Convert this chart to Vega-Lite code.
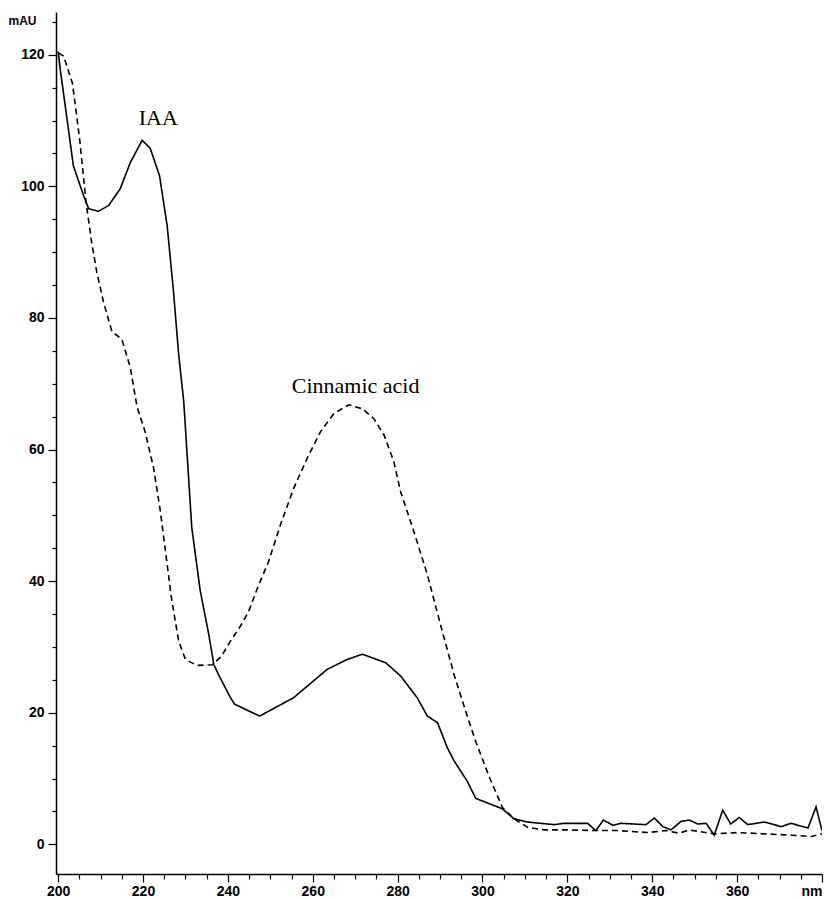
{
  "$schema": "https://vega.github.io/schema/vega-lite/v6.json",
  "width": 766,
  "height": 862,
  "autosize": {"type": "none"},
  "padding": {"left": 56, "top": 12, "right": 3, "bottom": 26},
  "background": "white",
  "config": {
    "view": {"stroke": null},
    "axis": {
      "domainColor": "black",
      "domainWidth": 1.5,
      "tickColor": "black",
      "tickWidth": 1.2,
      "grid": false,
      "labelFont": "Liberation Sans",
      "labelFontWeight": "bold",
      "labelFontSize": 14,
      "labelColor": "black",
      "labelOverlap": false,
      "labelBound": false
    }
  },
  "datasets": {
    "spectra": [
      {"nm": 200.0, "mAU": 120.5, "series": "IAA"},
      {"nm": 200.5, "mAU": 117.8, "series": "IAA"},
      {"nm": 203.6, "mAU": 103.1, "series": "IAA"},
      {"nm": 206.0, "mAU": 98.6, "series": "IAA"},
      {"nm": 207.2, "mAU": 96.6, "series": "IAA"},
      {"nm": 209.5, "mAU": 96.2, "series": "IAA"},
      {"nm": 211.9, "mAU": 97.1, "series": "IAA"},
      {"nm": 214.6, "mAU": 99.6, "series": "IAA"},
      {"nm": 217.0, "mAU": 103.6, "series": "IAA"},
      {"nm": 219.8, "mAU": 107.0, "series": "IAA"},
      {"nm": 221.7, "mAU": 105.8, "series": "IAA"},
      {"nm": 223.9, "mAU": 101.6, "series": "IAA"},
      {"nm": 225.7, "mAU": 94.0, "series": "IAA"},
      {"nm": 227.2, "mAU": 83.9, "series": "IAA"},
      {"nm": 228.4, "mAU": 74.5, "series": "IAA"},
      {"nm": 229.6, "mAU": 67.3, "series": "IAA"},
      {"nm": 231.5, "mAU": 48.1, "series": "IAA"},
      {"nm": 233.5, "mAU": 38.5, "series": "IAA"},
      {"nm": 235.5, "mAU": 31.9, "series": "IAA"},
      {"nm": 236.7, "mAU": 27.3, "series": "IAA"},
      {"nm": 237.8, "mAU": 25.8, "series": "IAA"},
      {"nm": 240.6, "mAU": 22.3, "series": "IAA"},
      {"nm": 241.6, "mAU": 21.3, "series": "IAA"},
      {"nm": 247.5, "mAU": 19.5, "series": "IAA"},
      {"nm": 255.5, "mAU": 22.3, "series": "IAA"},
      {"nm": 263.4, "mAU": 26.6, "series": "IAA"},
      {"nm": 268.1, "mAU": 28.1, "series": "IAA"},
      {"nm": 271.7, "mAU": 28.9, "series": "IAA"},
      {"nm": 277.2, "mAU": 27.6, "series": "IAA"},
      {"nm": 280.7, "mAU": 25.6, "series": "IAA"},
      {"nm": 284.6, "mAU": 22.3, "series": "IAA"},
      {"nm": 287.0, "mAU": 19.5, "series": "IAA"},
      {"nm": 289.4, "mAU": 18.5, "series": "IAA"},
      {"nm": 291.7, "mAU": 14.7, "series": "IAA"},
      {"nm": 293.3, "mAU": 12.7, "series": "IAA"},
      {"nm": 296.4, "mAU": 9.6, "series": "IAA"},
      {"nm": 298.4, "mAU": 7.0, "series": "IAA"},
      {"nm": 304.7, "mAU": 5.4, "series": "IAA"},
      {"nm": 307.4, "mAU": 3.9, "series": "IAA"},
      {"nm": 310.6, "mAU": 3.4, "series": "IAA"},
      {"nm": 316.9, "mAU": 3.0, "series": "IAA"},
      {"nm": 319.2, "mAU": 3.2, "series": "IAA"},
      {"nm": 324.8, "mAU": 3.2, "series": "IAA"},
      {"nm": 326.7, "mAU": 2.1, "series": "IAA"},
      {"nm": 328.5, "mAU": 3.7, "series": "IAA"},
      {"nm": 330.7, "mAU": 2.9, "series": "IAA"},
      {"nm": 332.6, "mAU": 3.2, "series": "IAA"},
      {"nm": 338.5, "mAU": 3.0, "series": "IAA"},
      {"nm": 340.5, "mAU": 4.0, "series": "IAA"},
      {"nm": 342.5, "mAU": 2.7, "series": "IAA"},
      {"nm": 344.4, "mAU": 2.2, "series": "IAA"},
      {"nm": 346.8, "mAU": 3.5, "series": "IAA"},
      {"nm": 348.7, "mAU": 3.7, "series": "IAA"},
      {"nm": 350.7, "mAU": 3.1, "series": "IAA"},
      {"nm": 352.7, "mAU": 3.2, "series": "IAA"},
      {"nm": 354.6, "mAU": 1.4, "series": "IAA"},
      {"nm": 356.6, "mAU": 5.2, "series": "IAA"},
      {"nm": 358.5, "mAU": 3.1, "series": "IAA"},
      {"nm": 360.5, "mAU": 4.1, "series": "IAA"},
      {"nm": 362.5, "mAU": 3.0, "series": "IAA"},
      {"nm": 366.4, "mAU": 3.4, "series": "IAA"},
      {"nm": 370.4, "mAU": 2.7, "series": "IAA"},
      {"nm": 372.7, "mAU": 3.2, "series": "IAA"},
      {"nm": 376.7, "mAU": 2.5, "series": "IAA"},
      {"nm": 378.6, "mAU": 5.7, "series": "IAA"},
      {"nm": 380.0, "mAU": 2.1, "series": "IAA"},

      {"nm": 200.1, "mAU": 120.3, "series": "Cinnamic acid"},
      {"nm": 201.3, "mAU": 119.8, "series": "Cinnamic acid"},
      {"nm": 203.4, "mAU": 115.6, "series": "Cinnamic acid"},
      {"nm": 205.1, "mAU": 107.0, "series": "Cinnamic acid"},
      {"nm": 206.6, "mAU": 97.5, "series": "Cinnamic acid"},
      {"nm": 207.9, "mAU": 91.5, "series": "Cinnamic acid"},
      {"nm": 209.1, "mAU": 87.0, "series": "Cinnamic acid"},
      {"nm": 210.7, "mAU": 82.4, "series": "Cinnamic acid"},
      {"nm": 212.7, "mAU": 77.9, "series": "Cinnamic acid"},
      {"nm": 215.0, "mAU": 76.8, "series": "Cinnamic acid"},
      {"nm": 217.0, "mAU": 72.5, "series": "Cinnamic acid"},
      {"nm": 218.6, "mAU": 66.5, "series": "Cinnamic acid"},
      {"nm": 220.5, "mAU": 62.7, "series": "Cinnamic acid"},
      {"nm": 222.5, "mAU": 57.2, "series": "Cinnamic acid"},
      {"nm": 224.1, "mAU": 50.6, "series": "Cinnamic acid"},
      {"nm": 225.3, "mAU": 44.5, "series": "Cinnamic acid"},
      {"nm": 226.8, "mAU": 37.0, "series": "Cinnamic acid"},
      {"nm": 228.4, "mAU": 30.9, "series": "Cinnamic acid"},
      {"nm": 230.0, "mAU": 28.1, "series": "Cinnamic acid"},
      {"nm": 232.7, "mAU": 27.2, "series": "Cinnamic acid"},
      {"nm": 236.3, "mAU": 27.3, "series": "Cinnamic acid"},
      {"nm": 238.5, "mAU": 28.6, "series": "Cinnamic acid"},
      {"nm": 240.6, "mAU": 30.9, "series": "Cinnamic acid"},
      {"nm": 242.8, "mAU": 33.0, "series": "Cinnamic acid"},
      {"nm": 244.9, "mAU": 35.4, "series": "Cinnamic acid"},
      {"nm": 247.0, "mAU": 39.0, "series": "Cinnamic acid"},
      {"nm": 249.6, "mAU": 43.0, "series": "Cinnamic acid"},
      {"nm": 252.4, "mAU": 48.6, "series": "Cinnamic acid"},
      {"nm": 255.5, "mAU": 54.1, "series": "Cinnamic acid"},
      {"nm": 258.7, "mAU": 58.7, "series": "Cinnamic acid"},
      {"nm": 261.8, "mAU": 62.7, "series": "Cinnamic acid"},
      {"nm": 265.0, "mAU": 65.5, "series": "Cinnamic acid"},
      {"nm": 268.5, "mAU": 66.8, "series": "Cinnamic acid"},
      {"nm": 271.7, "mAU": 66.2, "series": "Cinnamic acid"},
      {"nm": 274.4, "mAU": 64.7, "series": "Cinnamic acid"},
      {"nm": 276.8, "mAU": 62.2, "series": "Cinnamic acid"},
      {"nm": 279.1, "mAU": 58.2, "series": "Cinnamic acid"},
      {"nm": 280.7, "mAU": 53.6, "series": "Cinnamic acid"},
      {"nm": 283.8, "mAU": 47.6, "series": "Cinnamic acid"},
      {"nm": 287.0, "mAU": 41.0, "series": "Cinnamic acid"},
      {"nm": 290.1, "mAU": 33.4, "series": "Cinnamic acid"},
      {"nm": 293.3, "mAU": 25.8, "series": "Cinnamic acid"},
      {"nm": 296.4, "mAU": 19.5, "series": "Cinnamic acid"},
      {"nm": 298.2, "mAU": 16.0, "series": "Cinnamic acid"},
      {"nm": 301.5, "mAU": 10.4, "series": "Cinnamic acid"},
      {"nm": 304.7, "mAU": 5.6, "series": "Cinnamic acid"},
      {"nm": 307.4, "mAU": 3.9, "series": "Cinnamic acid"},
      {"nm": 310.6, "mAU": 2.6, "series": "Cinnamic acid"},
      {"nm": 314.5, "mAU": 2.2, "series": "Cinnamic acid"},
      {"nm": 320.0, "mAU": 2.2, "series": "Cinnamic acid"},
      {"nm": 326.3, "mAU": 2.1, "series": "Cinnamic acid"},
      {"nm": 331.8, "mAU": 2.1, "series": "Cinnamic acid"},
      {"nm": 338.9, "mAU": 1.8, "series": "Cinnamic acid"},
      {"nm": 343.2, "mAU": 2.1, "series": "Cinnamic acid"},
      {"nm": 346.4, "mAU": 1.7, "series": "Cinnamic acid"},
      {"nm": 348.7, "mAU": 2.2, "series": "Cinnamic acid"},
      {"nm": 354.6, "mAU": 1.6, "series": "Cinnamic acid"},
      {"nm": 360.2, "mAU": 1.8, "series": "Cinnamic acid"},
      {"nm": 366.5, "mAU": 1.6, "series": "Cinnamic acid"},
      {"nm": 372.7, "mAU": 1.4, "series": "Cinnamic acid"},
      {"nm": 377.5, "mAU": 1.2, "series": "Cinnamic acid"},
      {"nm": 380.0, "mAU": 1.6, "series": "Cinnamic acid"}
    ],
    "labels": [
      {"nm": 223.6, "mAU": 110.4, "text": "IAA"},
      {"nm": 270.1, "mAU": 69.6, "text": "Cinnamic acid"}
    ]
  },
  "encoding": {
    "x": {
      "field": "nm",
      "type": "quantitative",
      "scale": {"domain": [199.5, 380], "nice": false, "zero": false},
      "axis": {
        "title": null,
        "values": [200,205,210,215,220,225,230,235,240,245,250,255,260,265,270,275,280,285,290,295,300,305,310,315,320,325,330,335,340,345,350,355,360,365,370,375,380],
        "labelExpr": "datum.value == 380 ? 'nm' : (datum.value % 20 == 0 ? datum.label : '')",
        "labelAlign": {"condition": {"test": "datum.value == 380", "value": "right"}, "value": "center"},
        "tickSize": {"condition": {"test": "datum.value % 20 == 0", "value": 8}, "value": 5},
        "labelPadding": 2
      }
    },
    "y": {
      "field": "mAU",
      "type": "quantitative",
      "scale": {"domain": [-4.5, 126.5], "nice": false, "zero": false},
      "axis": {
        "title": "mAU",
        "titleAngle": 0,
        "titleX": -34,
        "titleY": 8,
        "titleAlign": "center",
        "titleBaseline": "middle",
        "titleFont": "Liberation Sans",
        "titleFontWeight": "bold",
        "titleFontSize": 12,
        "titleColor": "black",
        "values": [0,5,10,15,20,25,30,35,40,45,50,55,60,65,70,75,80,85,90,95,100,105,110,115,120,125],
        "labelExpr": "datum.value % 20 == 0 ? datum.label : ''",
        "tickSize": {"condition": {"test": "datum.value % 20 == 0", "value": 8}, "value": 4},
        "labelPadding": 4
      }
    }
  },
  "layer": [
    {
      "data": {"name": "spectra"},
      "mark": {"type": "line", "strokeWidth": 1.6, "clip": true},
      "encoding": {
        "detail": {"field": "series"},
        "color": {"value": "black"},
        "strokeDash": {
          "field": "series",
          "type": "nominal",
          "scale": {"domain": ["IAA", "Cinnamic acid"], "range": [[1, 0], [6, 4]]},
          "legend": null
        }
      }
    },
    {
      "data": {"name": "labels"},
      "mark": {"type": "text", "font": "Liberation Serif", "fontSize": 22, "color": "black", "align": "center", "baseline": "middle"},
      "encoding": {
        "text": {"field": "text"}
      }
    }
  ]
}
